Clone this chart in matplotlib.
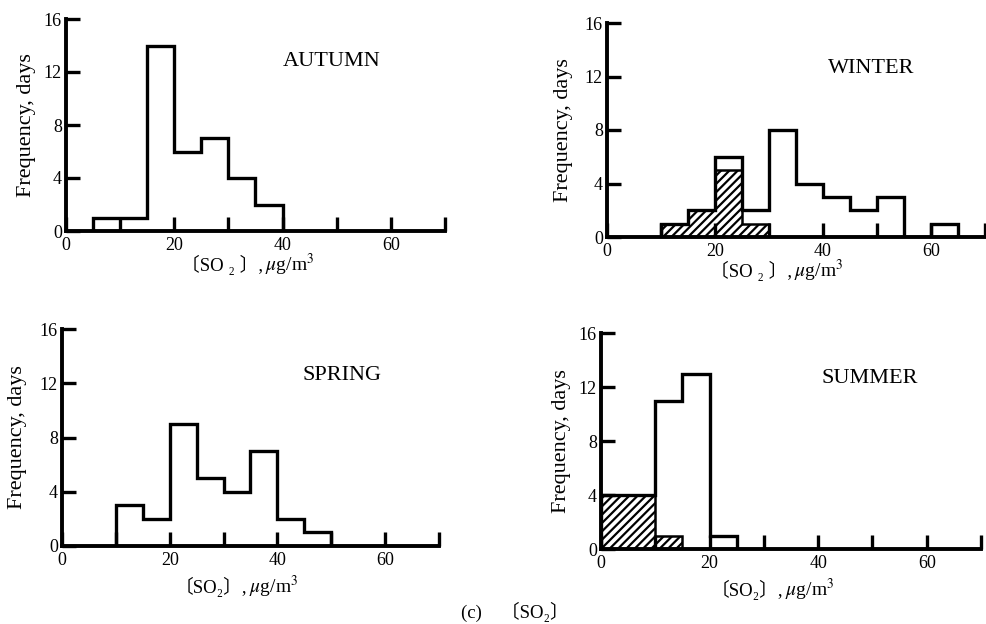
import numpy as np
import matplotlib
matplotlib.use("Agg")
import matplotlib.pyplot as plt

plt.rcParams['font.family'] = ['Liberation Serif', 'DejaVu Serif', 'Noto Sans CJK SC']
plt.rcParams['mathtext.fontset'] = 'stix'
plt.rcParams['hatch.linewidth'] = 1.6

# SO2 frequency histograms, 5 ug/m3 bins
autumn_edges = [5, 10, 15, 20, 25, 30, 35, 40]
autumn_days = [1, 1, 14, 6, 7, 4, 2]

winter_edges = [10, 15, 20, 25, 30, 35, 40, 45, 50, 55, 60, 65]
winter_days = [1, 2, 6, 2, 8, 4, 3, 2, 3, 0, 1]
winter_hatch_edges = [10, 15, 20, 25, 30]
winter_hatch_days = [1, 2, 5, 1]

spring_edges = [10, 15, 20, 25, 30, 35, 40, 45, 50]
spring_days = [3, 2, 9, 5, 4, 7, 2, 1]

summer_edges = [0, 5, 10, 15, 20, 25]
summer_days = [4, 4, 11, 13, 1]
summer_hatch_edges = [0, 5, 10, 15]
summer_hatch_days = [4, 4, 1]

xticks = [0, 10, 20, 30, 40, 50, 60, 70]
xticklabels = ['0', '', '20', '', '40', '', '60', '']
yticks = [0, 4, 8, 12, 16]

# x label: bracket part in plain text (CJK fallback), unit part in mathtext
label_top = '〔SO ₂ 〕,'
label_bot = '〔SO₂〕,'
unit = '$\\mu$g/m$^3$'

fig = plt.figure(figsize=(9.87, 6.24), dpi=100)

W, H = 987., 624.
def px_axes(l, r, t, b):
    return fig.add_axes([l / W, (H - b) / H, (r - l) / W, (b - t) / H])

panels = [
    dict(box=(66, 445, 19, 231), xmax=70, name='AUTUMN', npos=(40, 12.8),
         edges=autumn_edges, days=autumn_days, hedges=None, hdays=None,
         xl=label_top, xlpos=(0.52, -0.16), ylx=-0.103),
    dict(box=(607, 985, 23, 237), xmax=70 * 378 / 385., name='WINTER', npos=(41, 12.6),
         edges=winter_edges, days=winter_days, hedges=winter_hatch_edges, hdays=winter_hatch_days,
         xl=label_top, xlpos=(0.489, -0.16), ylx=-0.116),
    dict(box=(62, 439, 329, 546), xmax=70, name='SPRING', npos=(44.6, 12.6),
         edges=spring_edges, days=spring_days, hedges=None, hdays=None,
         xl=label_bot, xlpos=(0.49, -0.19), ylx=-0.117),
    dict(box=(601, 981, 333, 549), xmax=70, name='SUMMER', npos=(40.7, 12.6),
         edges=summer_edges, days=summer_days, hedges=summer_hatch_edges, hdays=summer_hatch_days,
         xl=label_bot, xlpos=(0.479, -0.19), ylx=-0.105),
]

for p in panels:
    ax = px_axes(*p['box'])
    ax.set_xlim(0, p['xmax'])
    ax.set_ylim(0, 16)
    for s in ['top', 'right']:
        ax.spines[s].set_visible(False)
    for s in ['left', 'bottom']:
        ax.spines[s].set_linewidth(2.8)
        ax.spines[s].set_capstyle('projecting')

    # hatched part drawn as one outlined shape
    if p['hedges'] is not None:
        ax.stairs(p['hdays'], p['hedges'], fill=True, facecolor='none', edgecolor='k',
                  hatch='////', linewidth=1.8, baseline=0, zorder=2)
    ax.stairs(p['days'], p['edges'], color='k', linewidth=2.4, baseline=0, zorder=3)

    ax.set_xticks(xticks)
    ax.set_xticklabels(xticklabels)
    ax.set_yticks(yticks)
    ax.tick_params(direction='in', length=10, width=2.4, labelsize=13, pad=4)
    ax.tick_params(axis='y', pad=3)
    for t in ax.get_xticklines() + ax.get_yticklines():
        t.set_clip_on(False)

    ax.text(p['npos'][0], p['npos'][1], p['name'], fontsize=16, va='center', ha='left')
    xx, yy = p['xlpos']
    ax.text(xx, yy, p['xl'], transform=ax.transAxes, fontsize=13.5, ha='right', va='center')
    ax.text(xx + 0.005, yy, unit, transform=ax.transAxes, fontsize=14, ha='left', va='center')
    ax.text(p['ylx'], 0.5, 'Frequency, days', transform=ax.transAxes, rotation=90,
            fontsize=16, ha='center', va='center')

fig.text(515 / W, 1 - 612 / H, '(c)    〔SO₂〕', fontsize=13.5, ha='center', va='center')

fig.savefig('out.png', dpi=100)
